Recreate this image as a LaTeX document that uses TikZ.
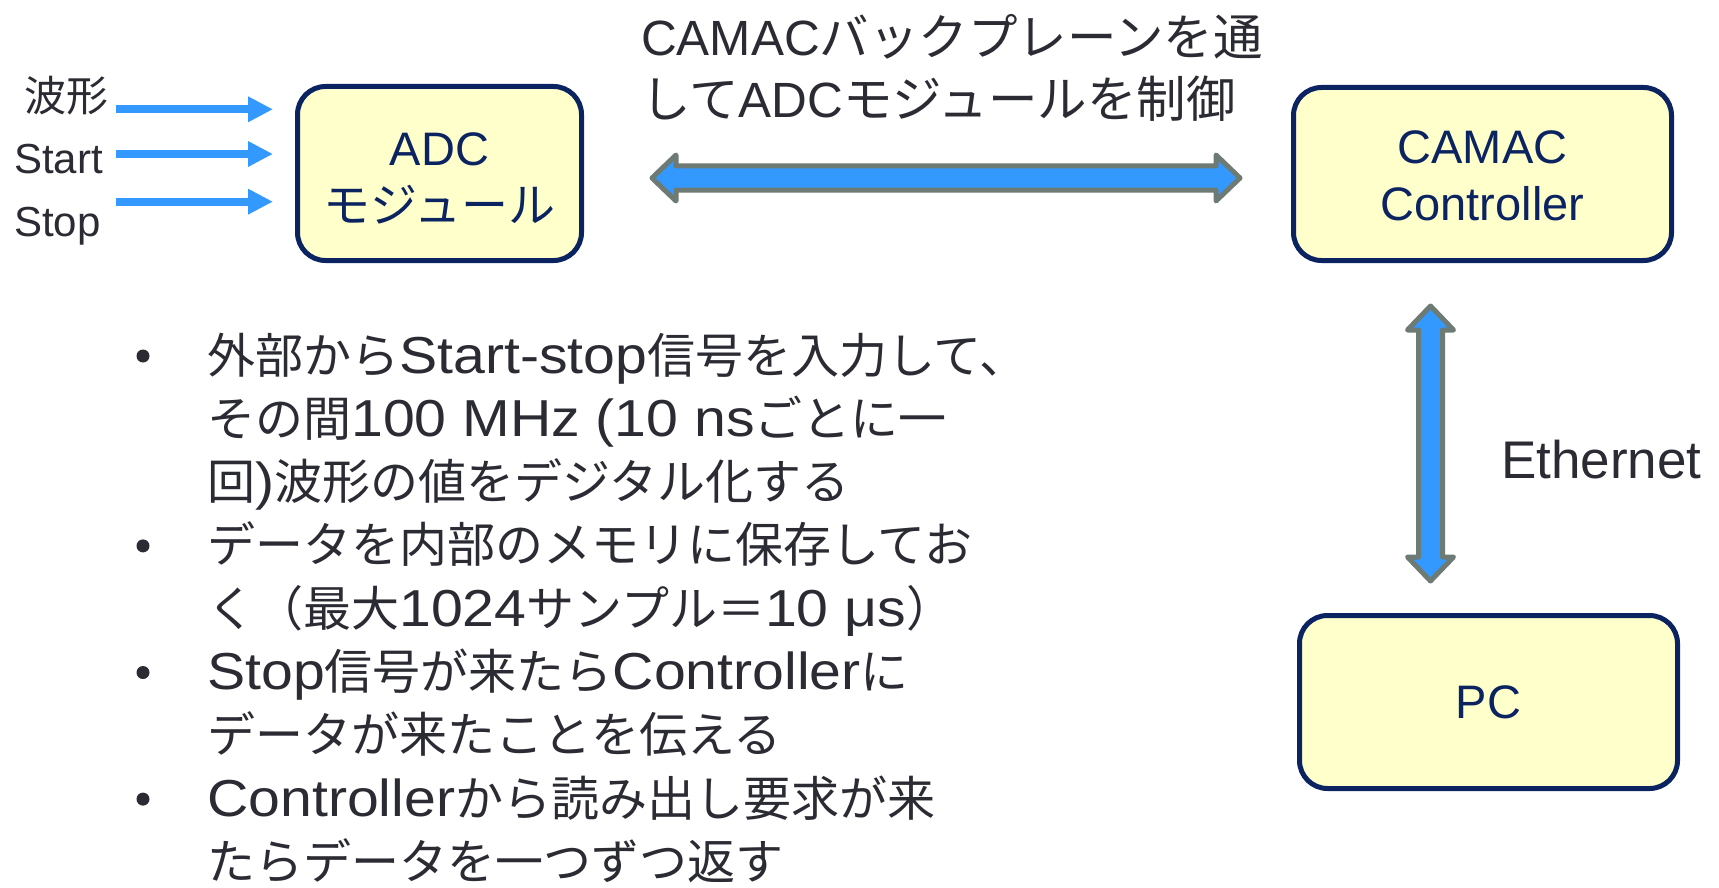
\documentclass[tikz,border=0pt]{standalone}
\usepackage{fontspec}
\setmainfont{Liberation Sans}
\newfontfamily\jpfont{Noto Sans CJK JP}
\newfontfamily\widelat[FakeStretch=1.1]{Liberation Sans}
\def\jpswitch{\jpfont}
\def\latswitch{\rmfamily}
\XeTeXinterchartokenstate=1
\newXeTeXintercharclass\jpclass
\newcount\jpc
\def\setjprange#1#2{\jpc=#1\relax\loop\XeTeXcharclass\jpc=\jpclass\relax\ifnum\jpc<#2\relax\advance\jpc by 1\relax\repeat}
\setjprange{"3000}{"30FF}
\setjprange{"4E00}{"9FFF}
\setjprange{"FF00}{"FFEF}
\XeTeXinterchartoks 0 \jpclass = {\jpswitch}
\XeTeXinterchartoks 4095 \jpclass = {\jpswitch}
\XeTeXinterchartoks \jpclass 0 = {\latswitch}
\XeTeXinterchartoks \jpclass 4095 = {\latswitch}
\usetikzlibrary{arrows.meta,calc}
\definecolor{txt}{HTML}{2B2B33}
\definecolor{navy}{HTML}{0B2360}
\definecolor{boxfill}{HTML}{FFFFCC}
\definecolor{arrblue}{HTML}{3399FF}
\definecolor{arrgray}{HTML}{6E7A74}
\newcommand\bulletfont{\def\jpswitch{\fontsize{48}{56}\jpfont}\def\latswitch{\fontsize{52}{56}\widelat}\latswitch}
\begin{document}
\begin{tikzpicture}[x=1pt,y=-1pt,
  box/.style={draw=navy, line width=5pt, fill=boxfill, rounded corners=28pt, inner sep=0pt, text=navy, align=center, font=\fontsize{47}{57}\selectfont},
  txtline/.style={anchor=base west, inner sep=0pt, text=txt, font=\bulletfont},
  lbl/.style={anchor=base west, inner sep=0pt, text=txt, font=\fontsize{42}{50}\selectfont},
  toptext/.style={anchor=base west, inner sep=0pt, text=txt, font=\fontsize{49.5}{60}\selectfont},
  dot/.style={circle, fill=txt, inner sep=0pt, minimum size=13pt},
  inarrow/.style={draw=arrblue, line width=8pt, -{Triangle[length=25pt,width=24pt]}},
  fat/.style={fill=arrblue, draw=arrgray, line width=5pt, line join=round},
]
\fill[white] (0,0) rectangle (1719,888);
\useasboundingbox (0,0) rectangle (1719,888);

% boxes
\node[box, minimum width=284pt, minimum height=174pt] (adc) at (439.5,173.5) {\rule{0pt}{42pt}ADC\\モジュール};
\node[box, minimum width=378pt, minimum height=173pt] (camac) at (1482.5,174) {\rule{0pt}{37pt}CAMAC\\Controller};
\node[box, minimum width=378pt, minimum height=173pt] (pc) at (1488.5,702) {PC};

% input labels and arrows
\node[lbl] (lw) at (24,112) {波形};
\node[lbl] (ls) at (14,173) {Start};
\node[lbl] (lp) at (14,236) {Stop};
\coordinate (w0) at (116,109.3); \coordinate (w1) at (273,109.3);
\coordinate (s0) at (116,154); \coordinate (s1) at (273,154);
\coordinate (p0) at (116,201.7); \coordinate (p1) at (273,201.7);
\draw[inarrow] (w0) -- (w1);
\draw[inarrow] (s0) -- (s1);
\draw[inarrow] (p0) -- (p1);

% horizontal double arrow
\coordinate (hL) at (652,178); \coordinate (hR) at (1240,178);
\path[fat] (hL) -- ++(24,-23) -- ++(0,11) -- ($(hR)+(-24,-12)$) -- ++(0,-11) -- (hR)
  -- ++(-24,23) -- ++(0,-11) -- ($(hL)+(24,12)$) -- ++(0,11) -- cycle;

% vertical double arrow
\coordinate (vT) at (1430.5,306); \coordinate (vB) at (1430.5,581);
\path[fat] (vT) -- ++(23,24) -- ++(-11,0) -- ($(vB)+(12,-24)$) -- ++(11,0) -- (vB)
  -- ++(-23,-24) -- ++(11,0) -- ($(vT)+(-12,24)$) -- ++(-11,0) -- cycle;

% top text
\node[toptext] (t1) at (641,56) {CAMACバックプレーンを通};
\node[toptext] (t2) at (641,118) {してADCモジュールを制御};

% Ethernet
\node[anchor=base west, inner sep=0pt, text=txt, font=\fontsize{53}{60}\selectfont] (eth) at (1501,478) {Ethernet};

% bullets
\node[dot] (d1) at (143,356) {};
\node[dot] (d2) at (143,545.9) {};
\node[dot] (d3) at (143,672.5) {};
\node[dot] (d4) at (143,799.1) {};
\node[txtline] (b1) at (207,373) {外部からStart-stop信号を入力して、};
\node[txtline] (b2) at (207,436.3) {その間100 MHz (10 nsごとに一};
\node[txtline] (b3) at (207,499.6) {回)波形の値をデジタル化する};
\node[txtline] (b4) at (207,562.9) {データを内部のメモリに保存してお};
\node[txtline] (b5) at (207,626.2) {く（最大1024サンプル＝10 μs）};
\node[txtline] (b6) at (207,689.5) {Stop信号が来たらControllerに};
\node[txtline] (b7) at (207,752.8) {データが来たことを伝える};
\node[txtline] (b8) at (207,816.1) {Controllerから読み出し要求が来};
\node[txtline] (b9) at (207,879.4) {たらデータを一つずつ返す};
\end{tikzpicture}
\end{document}
